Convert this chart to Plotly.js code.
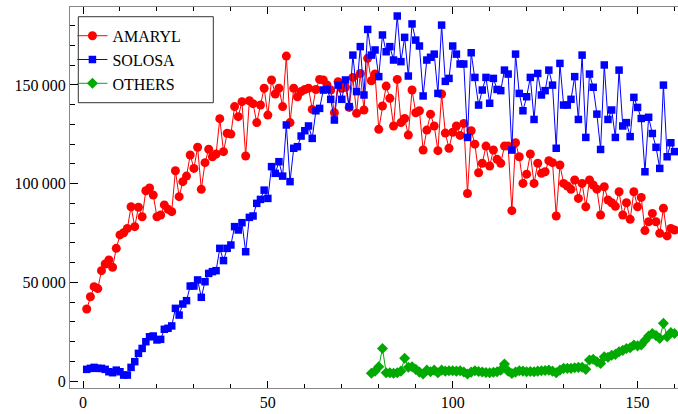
<!DOCTYPE html>
<html><head><meta charset="utf-8">
<script src="https://cdn.plot.ly/plotly-3.0.1.min.js"></script>
<style>html,body{margin:0;padding:0;background:#fff}</style>
</head><body><div id="chart" style="width:678px;height:414px"></div>
<script>
const amaryl = [36500,42700,47800,46800,55900,59300,61300,57600,67200,74000,
75100,77300,88300,78200,88000,83200,96400,97800,94200,83200,
84100,89200,87000,85800,106500,93400,101000,103800,114500,107700,
118400,97100,110600,117400,113600,115000,132900,116200,125500,125100,
139000,133900,141500,114000,142000,140500,130900,139800,148300,134700,
152500,145400,148300,139000,164600,130900,148300,144000,146600,147700,
148300,137600,147700,152800,152500,150000,147400,135900,151600,148300,
148800,138600,153800,135600,155800,137300,163500,152100,155500,127500,
139300,149400,143200,129200,152800,130900,133000,124600,147400,135900,
136900,117000,127100,135200,129200,116700,145400,125600,117900,126000,
129200,124400,130500,95000,126800,120000,105500,110300,119000,108900,
117000,112300,110300,119000,119000,86300,120700,113600,100100,104800,
115000,100100,110300,105200,106000,111600,110600,83600,109400,100100,
98800,97100,101800,92500,100100,88300,101800,99300,97200,84100,
98400,91700,90300,88500,95900,84100,90300,81900,95900,88300,
93000,76200,80700,84900,80700,74800,87500,73500,77300,76500];
const solosa = [5900,6400,6900,6400,6400,5900,4700,4200,5500,4700,
3000,3000,6900,9800,14000,16500,19900,22400,22800,20800,
21100,26200,26700,27900,36800,33400,39000,40700,48100,48100,
51200,42400,50300,54500,55400,55900,67200,61000,67200,68900,
78200,76500,80200,65500,82900,83600,90000,92000,96700,92500,
108600,105200,111100,103800,129700,101000,117900,118700,124100,126800,
129200,122900,136900,138100,147400,147700,142700,132200,149900,142700,
152500,139000,165100,146600,169400,144900,178100,165100,167700,154200,
175300,166800,169400,162600,184900,161800,174100,154500,180900,172700,
169700,144400,162600,164000,165600,145700,180300,151800,153300,169700,
165600,160600,160600,123400,166300,153800,139800,147400,153800,140700,
153300,147700,147100,157500,155500,117000,165600,145700,136900,144000,
153800,132500,155800,144900,147100,157500,149900,117900,160900,139800,
139800,142700,154200,132500,165100,123400,155500,148800,135200,117300,
160100,132500,137300,123400,157500,129200,130900,123800,143700,138600,
133000,106000,133600,125400,118400,107700,149900,113600,120700,116200];
const othersStart = 78;
const others = [3900,5000,7200,16500,4200,4200,3900,4200,5000,11500,
7000,7200,5900,4500,3500,5500,4700,5500,4200,5500,
5000,5200,5200,5000,5200,4600,3500,4500,5200,4800,
4600,4300,4200,4400,4700,5500,8600,5000,3800,4500,
5200,5000,4700,4800,4700,5000,5200,5300,5500,5000,
4200,5500,6400,6400,6400,6700,6900,7000,5900,10600,
11000,9800,8900,12300,12000,13000,13500,14800,15500,16500,
16800,18200,17800,18200,20500,22800,24100,23000,21600,29200,
22400,24500,24100];
const seriesNames = ['AMARYL','SOLOSA','OTHERS'];
const xTickVals = [0,50,100,150];
const xTickText = ['0','50','100','150'];
const yTickVals = [0,50000,100000,150000];
const yTickText = ['0','50\u2009000','100\u2009000','150\u2009000'];

const idx = (n, start) => Array.from({length:n}, (_, i) => start + i);
const font = 'Liberation Serif, Times New Roman, serif';

const traces = [
  {x: idx(amaryl.length,1), y: amaryl, name: seriesNames[0], type:'scatter', mode:'lines+markers',
   line:{color:'#ff0000', width:1}, marker:{symbol:'circle', size:9, color:'#ff0000'}},
  {x: idx(solosa.length,1), y: solosa, name: seriesNames[1], type:'scatter', mode:'lines+markers',
   line:{color:'#0000ff', width:1}, marker:{symbol:'square', size:7.5, color:'#0000ff'}},
  {x: idx(others.length,othersStart), y: others, name: seriesNames[2], type:'scatter', mode:'lines+markers',
   line:{color:'#00aa00', width:1}, marker:{symbol:'diamond', size:8.5, color:'#00aa00'}}
];

const layout = {
  width:678, height:414,
  margin:{l:70, r:0, t:7, b:26},
  paper_bgcolor:'#fff', plot_bgcolor:'#fff',
  font:{family:font, size:16, color:'#000'},
  showlegend:true,
  legend:{x:0.004, y:0.969, xanchor:'left', yanchor:'top', bgcolor:'rgba(0,0,0,0)', borderwidth:0,
          font:{family:font, size:16, color:'#000'}, traceorder:'normal', itemwidth:30},
  xaxis:{range:[-3.516,160.94], showgrid:false, zeroline:false, showline:true, linecolor:'#888', linewidth:1,
         mirror:'allticks', ticks:'inside', ticklen:7, tickwidth:1, tickcolor:'#000',
         tickmode:'array', tickvals:xTickVals, ticktext:xTickText,
         minor:{dtick:10, tick0:0, ticks:'inside', ticklen:4, tickwidth:1, tickcolor:'#000', showgrid:false},
         tickfont:{family:font, size:16, color:'#000'}},
  yaxis:{range:[-3546,189470], showgrid:false, zeroline:false, showline:true, linecolor:'#888', linewidth:1,
         mirror:false, ticks:'inside', ticklen:8, tickwidth:1, tickcolor:'#000',
         tickmode:'array', tickvals:yTickVals, ticktext:yTickText,
         minor:{dtick:10000, tick0:0, ticks:'inside', ticklen:5, tickwidth:1, tickcolor:'#000', showgrid:false},
         tickfont:{family:font, size:16, color:'#000'}},
  shapes:[{type:'rect', xref:'paper', yref:'paper', x0:0.01365, x1:0.2357, y0:0.7488, y1:0.9745,
           line:{color:'#333', width:1}, fillcolor:'rgba(0,0,0,0)', layer:'above'}]
};

Plotly.newPlot('chart', traces, layout, {displayModeBar:false, staticPlot:true});
</script></body></html>
